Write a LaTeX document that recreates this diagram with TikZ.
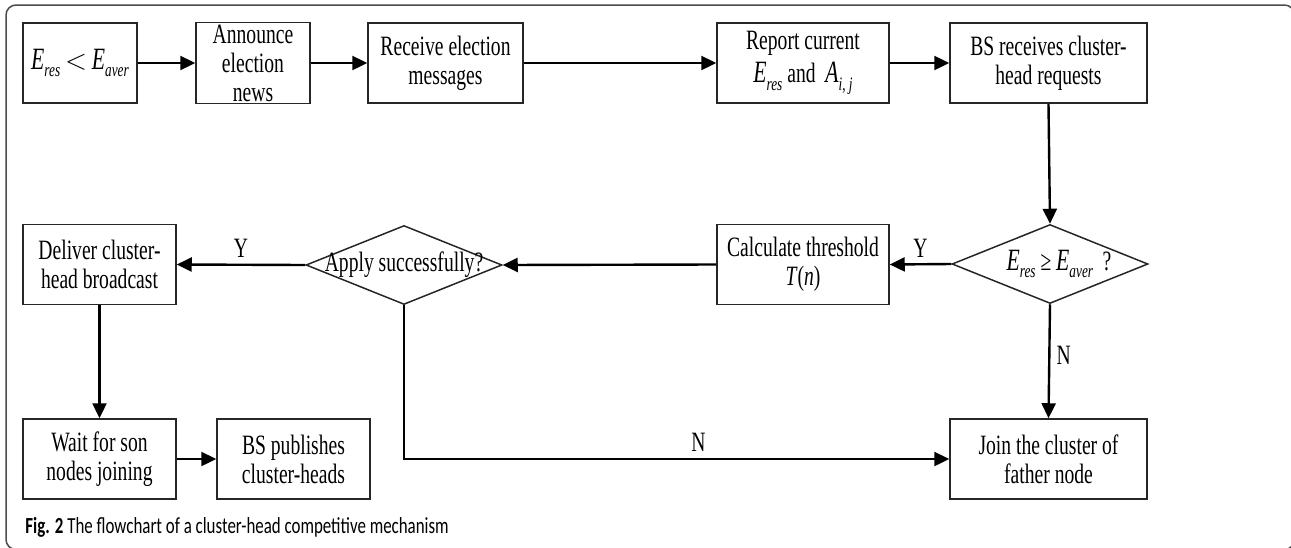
\documentclass[tikz,border=0pt]{standalone}
\usepackage{fontspec}
\setmainfont{Liberation Serif}[FakeStretch=0.7]
\newfontfamily\capfont{Carlito}[FakeStretch=0.735]
\usepackage{tikz}
\usetikzlibrary{arrows.meta,shapes.geometric}
\tikzset{%
  pbox/.style={draw=black!85,line width=0.75pt,shape=rectangle,align=center,minimum height=40pt,inner sep=1pt,font=\fontsize{14}{14.5}\selectfont},
  dbox/.style={draw=black!85,line width=0.75pt,shape=diamond,minimum width=98pt,minimum height=39.5pt,inner sep=0pt,font=\fontsize{14}{14.5}\selectfont},
  flow/.style={draw=black,line width=1.2pt,-{Triangle[length=7.5pt,width=7pt]}},
  lbl/.style={inner sep=3pt,font=\fontsize{14}{14.5}\selectfont}
}
\newcommand{\Ev}[1]{{\fontsize{15.5}{14}\selectfont\textit{E}}\raisebox{-0.6ex}{\fontsize{9.5}{9}\selectfont\textit{#1}}}

\begin{document}
\begin{tikzpicture}[x=0.5pt,y=-0.5pt]
    \useasboundingbox (0,0) rectangle (1291,547);
    \draw[black!70,line width=0.75pt,rounded corners=5pt] (6,5) rectangle (1294.5,549.5);
    % top row
    \path
      (80,63)     node (cond)[pbox,minimum width=57pt]{\Ev{res} $<$ \Ev{aver}}
      (253,63)    node (announce)[pbox,minimum width=57pt]{Announce\\election\\news}
      (445.5,63)  node (receive)[pbox,minimum width=77.5pt]{Receive election\\messages}
      (803,63)    node (report)[pbox,minimum width=86pt,font=\fontsize{14}{16.5}\selectfont]{Report current\\\Ev{res} and \ {\fontsize{15.5}{14}\selectfont\textit{A}}\raisebox{-0.6ex}{\fontsize{9.5}{9}\selectfont\textit{i},\,\textit{j}}}
      (1048.5,63) node (bsrecv)[pbox,minimum width=98.5pt]{BS receives cluster-\\head requests};
    % middle row
    \path
      (1050,264)  node (echeck)[dbox]{\makebox[0pt]{\hspace{9pt}\Ev{res} ≥ \Ev{aver} \,?}}
      (803,264.5) node (calc)[pbox,minimum width=86pt]{Calculate threshold\\\textit{T}(\textit{n})\hspace{2.4em}}
      (404,265)   node (apply)[dbox]{\makebox[0pt]{Apply successfully?}}
      (99.5,264.5) node (deliver)[pbox,minimum width=76.5pt]{Deliver cluster-\\head broadcast};
    % bottom row
    \path
      (99.5,459)  node (wait)[pbox,minimum width=76.5pt]{Wait for son\\nodes joining}
      (293.5,459) node (publish)[pbox,minimum width=76.5pt]{BS publishes\\cluster-heads}
      (1048.5,459) node (join)[pbox,minimum width=98.5pt]{Join the cluster of\\father node};
    \draw[flow] (cond) -- (announce);
    \draw[flow] (announce) -- (receive);
    \draw[flow] (receive) -- (report);
    \draw[flow] (report) -- (bsrecv);
    \draw[flow] (bsrecv.south) -- (echeck.north);
    \draw[flow] (echeck.west) -- node[lbl,above]{Y} (calc.east);
    \draw[flow] (calc.west) -- (apply.east);
    \draw[flow] (apply.west) -- node[lbl,above]{Y} (deliver.east);
    \draw[flow] (deliver) -- (wait);
    \draw[flow] (wait) -- (publish);
    \draw[flow] (echeck.south) -- node[lbl,right,pos=0.45]{N} (join.north);
    \draw[flow] (apply.south) |- node[lbl,above,pos=0.77]{N} (join.west);
    \node (cap)[anchor=base west,inner sep=0pt,font=\capfont\fontsize{11.5}{12}\selectfont] at (25,533) {\textbf{Fig. 2} The flowchart of a cluster-head competitive mechanism};
  \end{tikzpicture}
\end{document}
